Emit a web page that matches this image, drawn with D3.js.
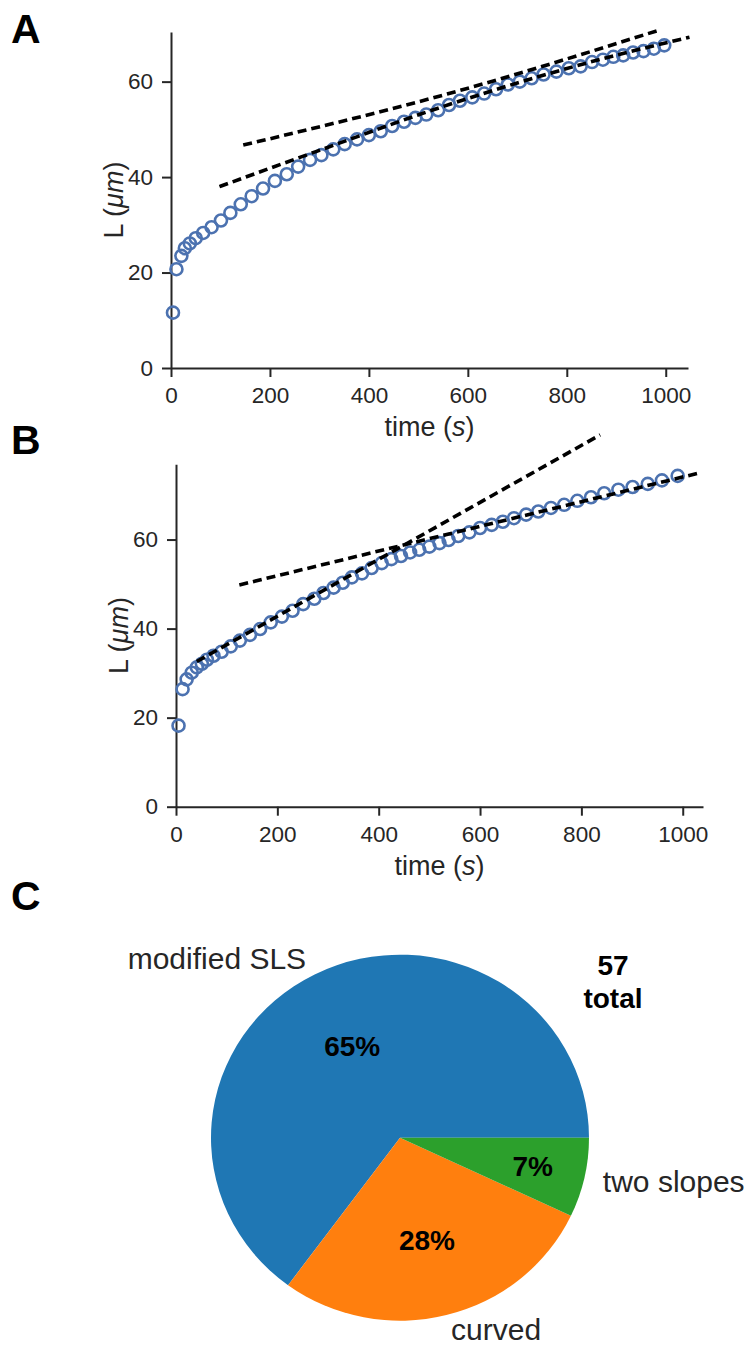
<!DOCTYPE html>
<html>
<head>
<meta charset="utf-8">
<script src="https://cdn.jsdelivr.net/npm/d3@7"></script>
<style>
  html, body { margin: 0; padding: 0; background: #fff; }
  svg { display: block; font-family: "Liberation Sans", Arial, Helvetica, sans-serif; }
</style>
</head>
<body>
<svg id="fig" width="747" height="1345"></svg>
<script>
// ---------------- data ----------------
const timeA = [4, 11, 21, 28, 38, 50, 65, 82, 101, 120, 141, 163, 186, 210, 234, 257, 281, 304, 328, 351, 376, 400, 424, 447, 471, 494, 516, 540, 562, 584, 609, 633, 657, 681, 705, 729, 753, 779, 804, 828, 851, 873, 894, 914, 934, 955, 976, 997];
const lengthA = [11.6, 20.7, 23.5, 25.1, 26.1, 27.2, 28.3, 29.5, 30.9, 32.5, 34.3, 36.0, 37.6, 39.2, 40.6, 42.2, 43.6, 44.6, 45.8, 46.9, 47.9, 48.8, 49.6, 50.7, 51.6, 52.4, 53.1, 54.0, 55.1, 56.0, 56.7, 57.5, 58.4, 59.4, 60.0, 60.7, 61.5, 62.1, 62.8, 63.2, 64.1, 64.6, 65.2, 65.5, 66.1, 66.4, 66.9, 67.6];
const fitA1Time = [146, 558, 984];
const fitA1Length = [46.7, 57.4, 70.7];
const fitA2Time = [98, 300, 543, 867, 1048];
const fitA2Length = [38.0, 45.6, 54.55, 64.65, 69.3];

const timeB = [5, 13, 21, 31, 41, 51, 61, 74, 90, 108, 126, 146, 166, 187, 209, 230, 251, 273, 291, 311, 329, 347, 367, 386, 406, 425, 444, 462, 480, 500, 520, 538, 557, 579, 600, 623, 645, 667, 691, 715, 740, 766, 792, 819, 845, 873, 901, 931, 959, 990];
const lengthB = [18.2, 26.4, 28.6, 30.1, 31.3, 32.1, 33.0, 33.9, 34.8, 36.0, 37.3, 38.6, 39.9, 41.4, 42.7, 44.0, 45.5, 46.7, 48.0, 49.2, 50.3, 51.5, 52.4, 53.6, 54.7, 55.6, 56.3, 57.1, 57.7, 58.4, 59.2, 59.9, 60.8, 61.6, 62.6, 63.3, 64.0, 64.8, 65.6, 66.3, 67.1, 67.8, 68.7, 69.5, 70.4, 71.2, 71.8, 72.5, 73.3, 74.3];
const fitB1Time = [41, 837];
const fitB1Length = [32.6, 83.5];
const fitB2Time = [125, 1031];
const fitB2Length = [49.8, 74.9];

const xTicks = [0, 200, 400, 600, 800, 1000];
const yTicks = [0, 20, 40, 60];

const pieCategories = ["modified SLS", "curved", "two slopes"];
const pieCounts = [37, 16, 4];
const pieTotalLabel = ["57", "total"];

// ---------------- style ----------------
const INK = "#262626";
const MARKER = "#4C72B0";
const PIE_COLORS = ["#1f77b4", "#ff7f0e", "#2ca02c"];

const svg = d3.select("#fig");

function panel(cfg) {
  const g = svg.append("g");
  const x = d3.scaleLinear().domain(cfg.xDomain).range(cfg.xRange);
  const y = d3.scaleLinear().domain(cfg.yDomain).range(cfg.yRange);

  const xAxis = g.append("g")
    .attr("transform", `translate(0,${cfg.yRange[0]})`)
    .call(d3.axisBottom(x).tickValues(xTicks).tickFormat(d3.format("d")).tickSize(9).tickSizeOuter(0).tickPadding(10));
  const yAxis = g.append("g")
    .attr("transform", `translate(${cfg.xRange[0]},0)`)
    .call(d3.axisLeft(y).tickValues(yTicks).tickFormat(d3.format("d")).tickSize(9).tickSizeOuter(0).tickPadding(9));
  [xAxis, yAxis].forEach(a => {
    a.selectAll("path.domain").attr("stroke", INK).attr("stroke-width", 2);
    a.selectAll(".tick line").attr("stroke", INK).attr("stroke-width", 2);
    a.selectAll(".tick text").attr("fill", INK).style("font-size", "22.5px")
      .style("font-family", '"Liberation Sans", Arial, sans-serif');
  });

  // axis labels
  const xl = g.append("text")
    .attr("x", (cfg.xRange[0] + cfg.xRange[1]) / 2)
    .attr("y", cfg.yRange[0] + 68)
    .attr("text-anchor", "middle").attr("fill", INK).style("font-size", "27px");
  xl.append("tspan").text("time (");
  xl.append("tspan").attr("font-style", "italic").text("s");
  xl.append("tspan").text(")");

  const ycx = cfg.xRange[0] - 57, ycy = (cfg.yRange[0] + cfg.yRange[1]) / 2;
  const yl = g.append("text")
    .attr("transform", `translate(${ycx},${ycy}) rotate(-90)`)
    .attr("text-anchor", "middle").attr("dy", "0.35em").attr("fill", INK).style("font-size", "27px");
  yl.append("tspan").text("L (");
  yl.append("tspan").attr("font-style", "italic").text("μm");
  yl.append("tspan").text(")");

  // markers
  g.append("g").selectAll("circle")
    .data(cfg.t.map((t, i) => [t, cfg.L[i]]))
    .join("circle")
    .attr("cx", d => x(d[0])).attr("cy", d => y(d[1])).attr("r", 6)
    .attr("fill", "none").attr("stroke", MARKER).attr("stroke-width", 2.6);

  // fit lines
  cfg.fits.forEach(f => {
    const pts = f.t.map((t, i) => [t, f.L[i]]);
    g.append("path")
      .attr("d", d3.line().x(d => x(d[0])).y(d => y(d[1])).curve(d3.curveMonotoneX)(pts))
      .attr("fill", "none").attr("stroke", "#000").attr("stroke-width", 3.6)
      .attr("stroke-dasharray", "9,5");
  });

  // panel letter
  svg.append("text").attr("x", cfg.letterPos[0]).attr("y", cfg.letterPos[1])
    .attr("font-weight", "bold").style("font-size", "41px").attr("fill", "#000")
    .text(cfg.letter);
}

panel({
  letter: "A", letterPos: [11, 43],
  xDomain: [0, 1045], xRange: [171, 688],
  yDomain: [0, 70.4], yRange: [368, 32],
  t: timeA, L: lengthA,
  fits: [{ t: fitA1Time, L: fitA1Length }, { t: fitA2Time, L: fitA2Length }]
});

panel({
  letter: "B", letterPos: [11, 454],
  xDomain: [0, 1040], xRange: [176, 703],
  yDomain: [0, 76.9], yRange: [806.7, 464.3],
  t: timeB, L: lengthB,
  fits: [{ t: fitB1Time, L: fitB1Length }, { t: fitB2Time, L: fitB2Length }]
});

// ---------------- pie ----------------
svg.append("text").attr("x", 11).attr("y", 910)
  .attr("font-weight", "bold").style("font-size", "41px").attr("fill", "#000").text("C");

const cx = 400, cy = 1137.7, rx = 189, ry = 183;
const pie = d3.pie().sort(null).value(d => d)
  .startAngle(Math.PI / 2).endAngle(Math.PI / 2 - 2 * Math.PI);
const arcs = pie(pieCounts);
const arcGen = d3.arc().innerRadius(0).outerRadius(rx);
const pg = svg.append("g").attr("transform", `translate(${cx},${cy}) scale(1,${ry / rx})`);
pg.selectAll("path").data(arcs).join("path")
  .attr("d", arcGen).attr("fill", (d, i) => PIE_COLORS[i]);

const total = d3.sum(pieCounts);
const pctDist = [0.56, 0.58, 0.72];
arcs.forEach((a, i) => {
  const mid = (a.startAngle + a.endAngle) / 2;
  const sx = Math.sin(mid), sy = -Math.cos(mid);
  // category label
  const lx = cx + 1.1 * rx * sx, ly = Math.min(cy + 1.1 * ry * sy, 1329);
  svg.append("text").attr("x", lx).attr("y", ly).attr("dy", "0.35em")
    .attr("text-anchor", sx < 0 ? "end" : "start")
    .attr("fill", INK).style("font-size", "30px").text(pieCategories[i]);
  // percentage label
  const px = cx + pctDist[i] * rx * sx, py = cy + pctDist[i] * ry * sy;
  svg.append("text").attr("x", px).attr("y", py).attr("dy", "0.35em")
    .attr("text-anchor", "middle").attr("font-weight", "bold")
    .attr("fill", "#000").style("font-size", "28px")
    .text(Math.round(100 * pieCounts[i] / total) + "%");
});

svg.append("text").attr("x", 613).attr("y", 965).attr("dy", "0.35em")
  .attr("text-anchor", "middle").attr("font-weight", "bold").style("font-size", "28px")
  .attr("fill", "#000").text(pieTotalLabel[0]);
svg.append("text").attr("x", 613).attr("y", 998).attr("dy", "0.35em")
  .attr("text-anchor", "middle").attr("font-weight", "bold").style("font-size", "28px")
  .attr("fill", "#000").text(pieTotalLabel[1]);
</script>
</body>
</html>
